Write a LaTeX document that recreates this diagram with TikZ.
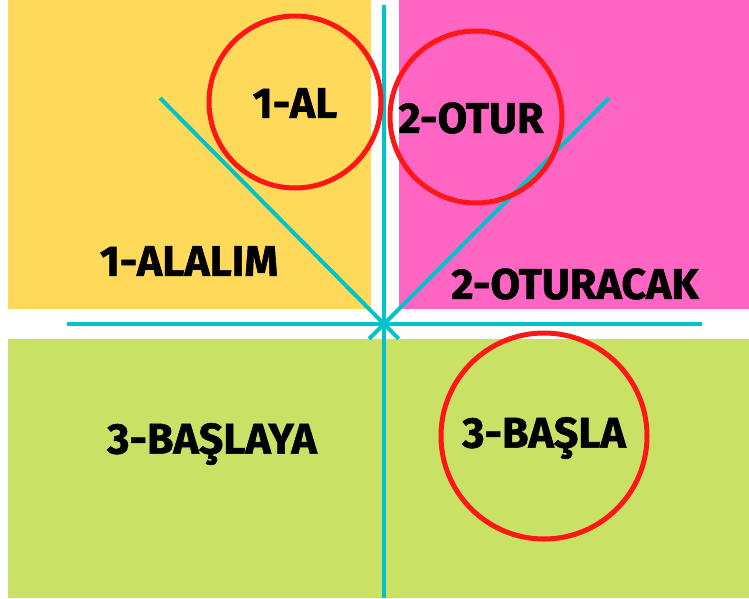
\documentclass[tikz,border=0pt]{standalone}
\usepackage{fontspec}
\setmainfont{Fira Sans}[BoldFeatures={FakeBold=1.2}]
\usepackage{xcolor}
\definecolor{sunyellow}{RGB}{255,218,90}
\definecolor{hotpink}{RGB}{255,102,196}
\definecolor{limegreen}{RGB}{201,226,101}
\definecolor{axiscyan}{RGB}{0,194,203}
\definecolor{ringred}{RGB}{255,22,22}
\usetikzlibrary{calc}

\begin{document}
\begin{tikzpicture}[x=1pt, y=-1pt,
  word/.style={font=\bfseries\fontsize{43}{50}\selectfont, text=black, inner sep=0pt},
  axis/.style={axiscyan, line width=4pt},
  ring/.style={ringred, line width=5pt}]
  \useasboundingbox (0,0) rectangle (749,598);

  % Coloured fields
  \fill[sunyellow] (8,0) rectangle (371,309);
  \fill[hotpink] (399,0) rectangle (749,309);
  \fill[limegreen] (8,339) rectangle (749,598);

  % Cross and diagonals
  \coordinate (O) at (384,324);
  \coordinate (T) at (384,5);
  \coordinate (B) at (384,598);
  \coordinate (L) at (67,324);
  \coordinate (R) at (702,324);
  \coordinate (DL) at (160,98);
  \coordinate (DR) at (609,98);
  \draw[axis] (DL) -- ($(DL)!1.066!(O)$);
  \draw[axis] (DR) -- ($(DR)!1.066!(O)$);
  \draw[axis] (L) -- (R);
  \draw[axis] (T) -- (B);

  % Circled words
  \draw[ring] (295,102) circle (86pt);
  \draw[ring] (476,117) circle (86pt);
  \draw[ring] (544,436) circle (103pt);

  % Labels
  \node[word] (al) at (295,103) {1-AL};
  \node[word] (otur) at (471,118) {2-OTUR};
  \node[word] (basla) at (544,438) {3-BAŞLA};
  \node[word] (alalim) at (189,261) {1-ALALIM};
  \node[word] (oturacak) at (575,284) {2-OTURACAK};
  \node[word] (baslaya) at (212,444) {3-BAŞLAYA};
\end{tikzpicture}
\end{document}
